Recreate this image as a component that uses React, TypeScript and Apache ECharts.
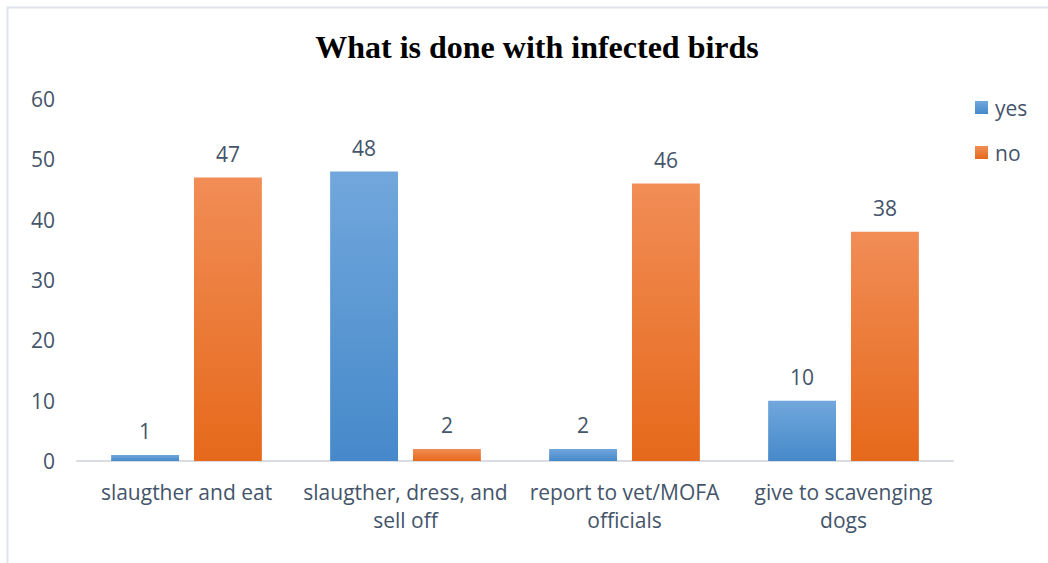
import React, { useEffect, useRef } from "react";
import * as echarts from "echarts";

const categories = [
  "slaugther and eat",
  "slaugther, dress, and\nsell off",
  "report to vet/MOFA\nofficials",
  "give to scavenging\ndogs",
];
const yesValues = [1, 48, 2, 10];
const noValues = [47, 2, 46, 38];
const yTicks = [0, 10, 20, 30, 40, 50, 60];

const TEXT = "#44546a";
const FONT = "'Open Sans', sans-serif";
const SIZE = 21;

const grad = (top: string, bottom: string) =>
  new echarts.graphic.LinearGradient(0, 0, 0, 1, [
    { offset: 0, color: top },
    { offset: 1, color: bottom },
  ]);

export default function App() {
  const ref = useRef<HTMLDivElement>(null);
  useEffect(() => {
    if (!ref.current) return;
    const chart = echarts.init(ref.current, null, { renderer: "svg" });
    const valueLabel = {
      show: true,
      position: "top",
      distance: 13,
      fontFamily: FONT,
      fontSize: SIZE,
      color: TEXT,
    };
    chart.setOption({
      animation: false,
      backgroundColor: "#ffffff",
      title: {
        text: "What is done with infected birds",
        left: 532,
        textAlign: "center",
        top: 26,
        textStyle: {
          fontFamily: "'Liberation Serif', 'Times New Roman', serif",
          fontWeight: "bold",
          fontSize: 32,
          color: "#000000",
        },
      },
      legend: {
        orient: "vertical",
        left: 975,
        top: 97,
        padding: 0,
        itemWidth: 13,
        itemHeight: 13,
        itemGap: 24,
        icon: "rect",
        textStyle: {
          fontFamily: FONT,
          fontSize: SIZE,
          lineHeight: 21,
          color: TEXT,
          padding: [0, 0, 0, 2],
        },
        data: ["yes", "no"],
      },
      grid: { left: 77, right: 95, top: 99, bottom: 102 },
      xAxis: {
        type: "category",
        data: categories,
        axisLine: { lineStyle: { color: "#d9dde3", width: 2 } },
        axisTick: { show: false },
        axisLabel: {
          interval: 0,
          margin: 17,
          lineHeight: 28,
          fontFamily: FONT,
          fontSize: SIZE,
          color: TEXT,
        },
      },
      yAxis: {
        type: "value",
        min: yTicks[0],
        max: yTicks[yTicks.length - 1],
        interval: 10,
        splitLine: { show: false },
        axisLine: { show: false },
        axisLabel: { margin: 22, fontFamily: FONT, fontSize: SIZE, color: TEXT },
      },
      series: [
        {
          name: "yes",
          type: "bar",
          data: yesValues,
          barWidth: "31%",
          barGap: "22%",
          itemStyle: { color: grad("#71a7dc", "#4689ca") },
          label: valueLabel,
        },
        {
          name: "no",
          type: "bar",
          data: noValues,
          barWidth: "31%",
          itemStyle: { color: grad("#f18d56", "#e6691b") },
          label: valueLabel,
        },
      ],
      graphic: [
        {
          type: "rect",
          shape: { x: 7.5, y: 7.5, width: 1100, height: 600 },
          style: { fill: "none", stroke: "#dfe4ea", lineWidth: 2 },
          silent: true,
        },
      ],
    });
    return () => chart.dispose();
  }, []);
  return (
    <div
      ref={ref}
      style={{ position: "fixed", left: 0, top: 0, width: 1048, height: 563 }}
    />
  );
}
